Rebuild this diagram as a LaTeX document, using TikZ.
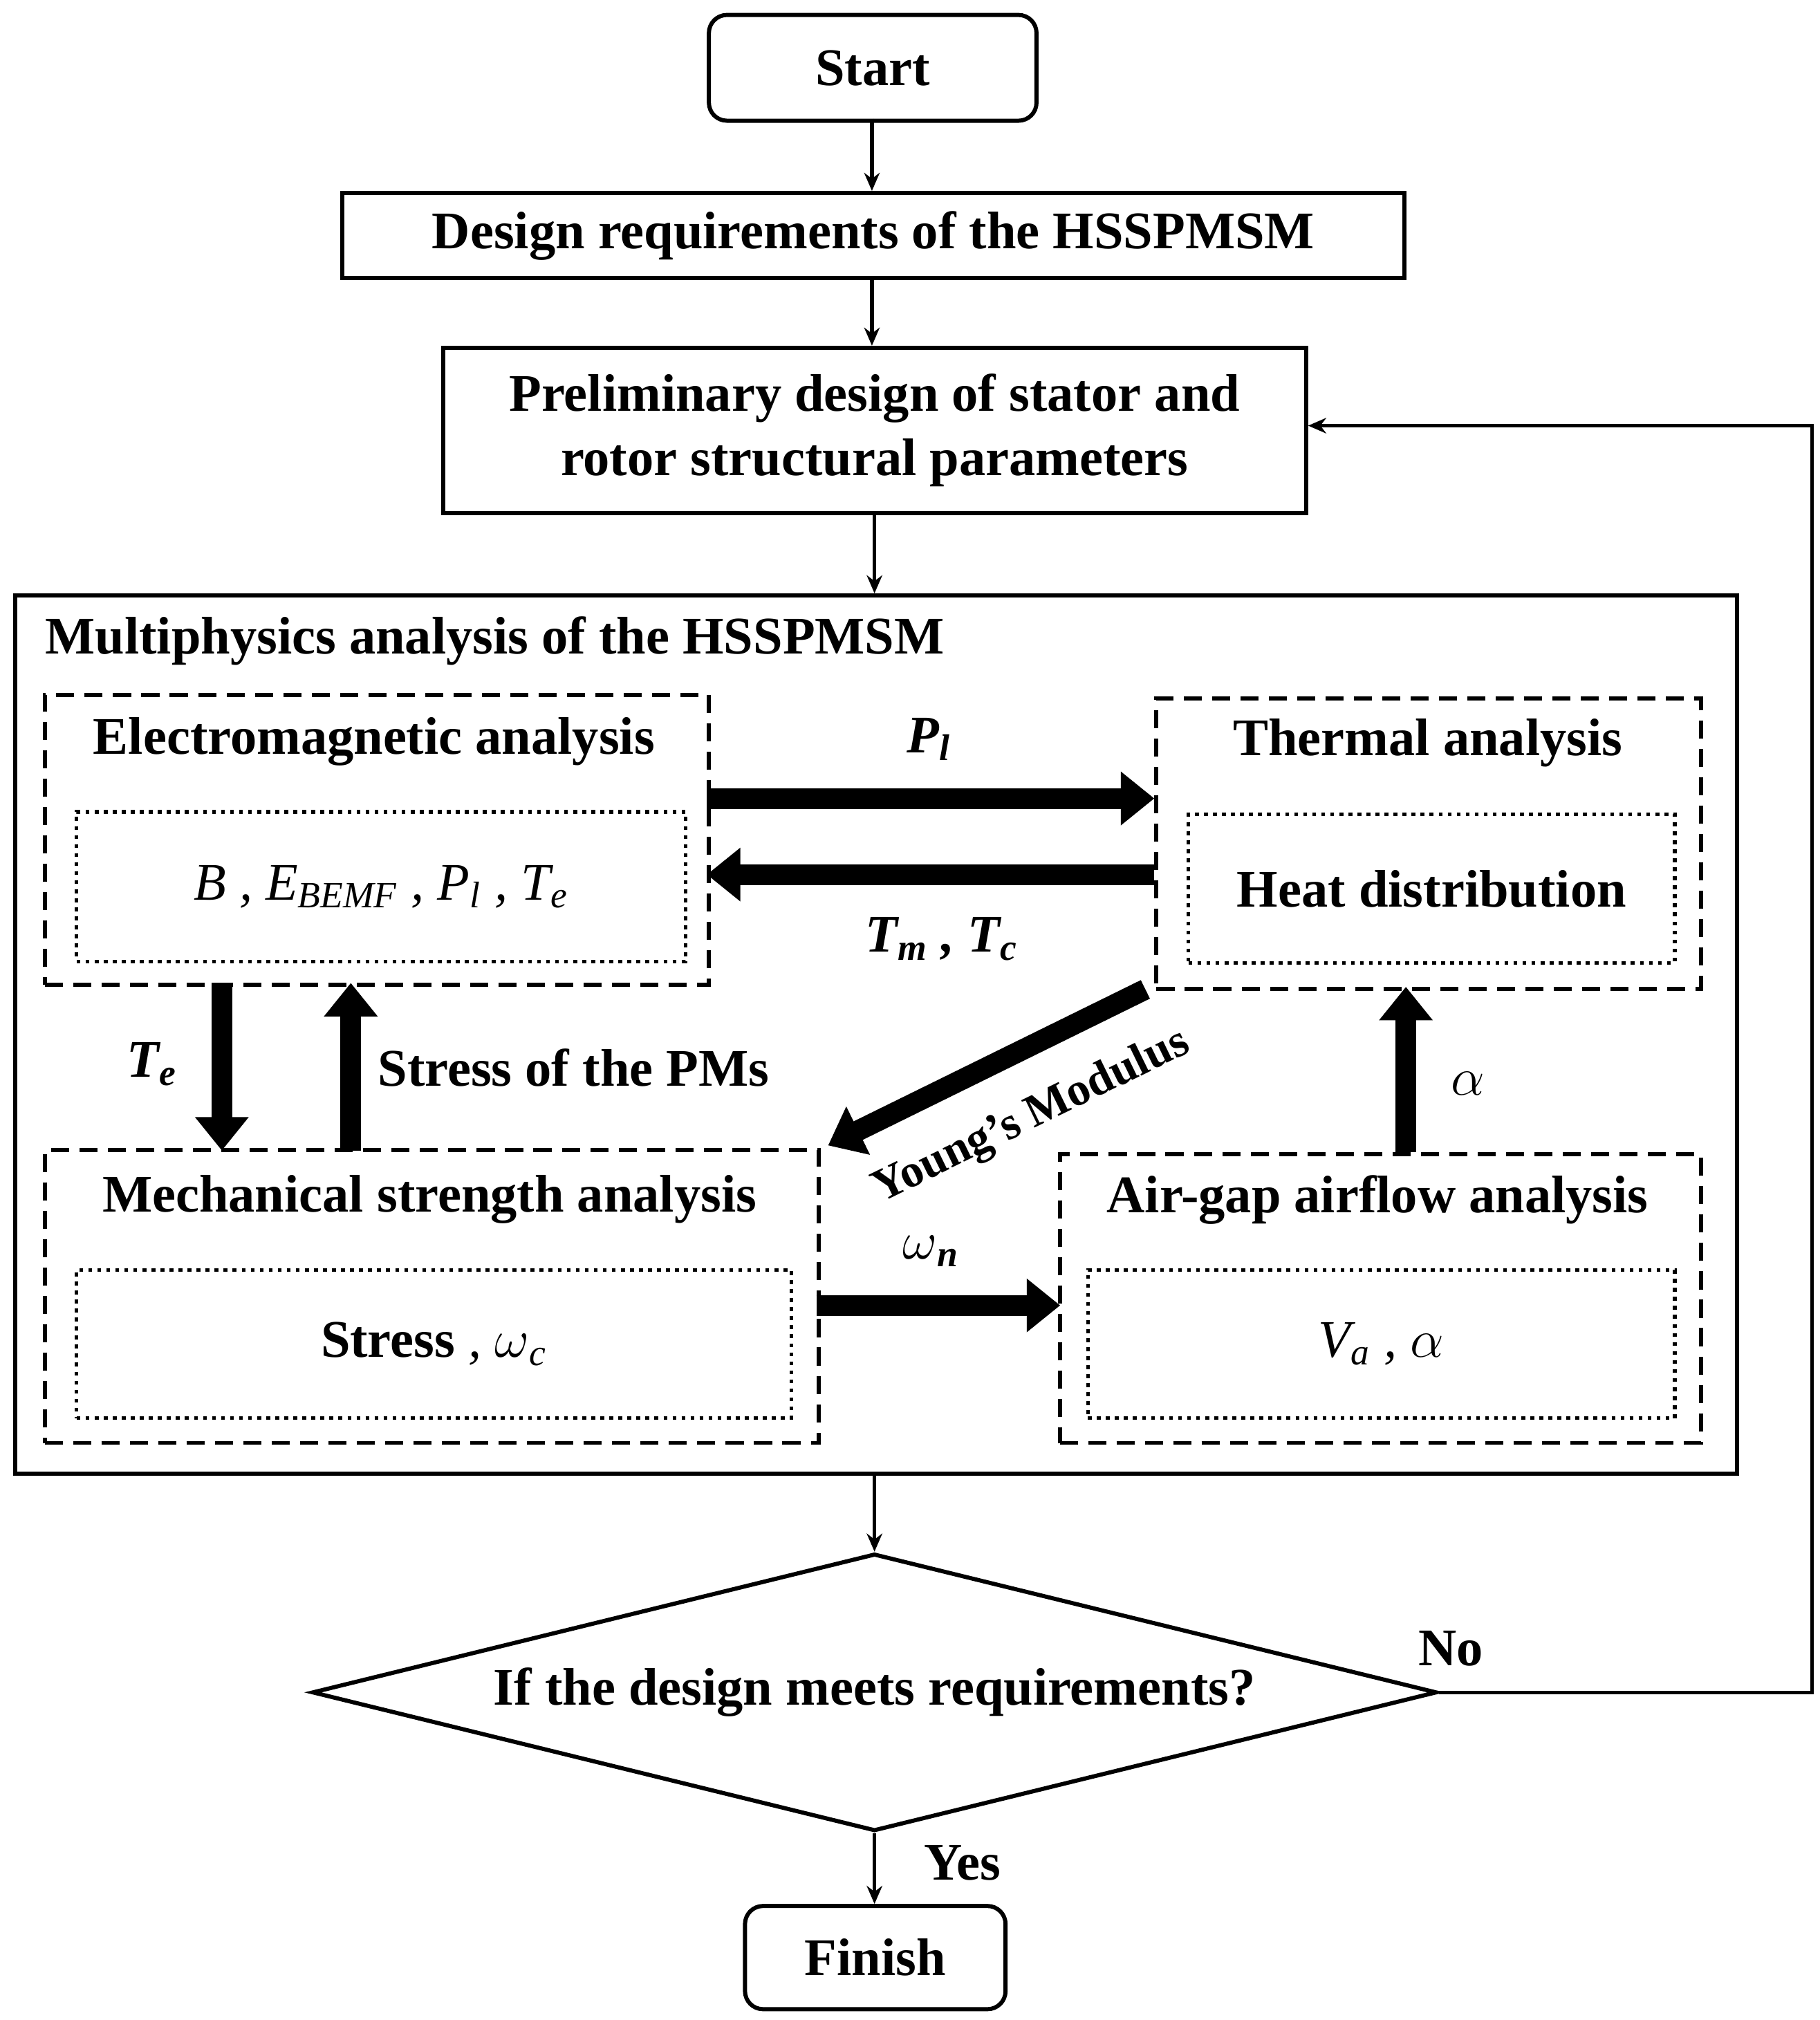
\documentclass[tikz,border=0pt]{standalone}
\usepackage{fontspec}
\setmainfont{Liberation Serif}
\usetikzlibrary{arrows.meta,shapes.geometric,calc}
\newcommand{\sbs}[1]{\textsubscript{#1}}
\begin{document}
\begin{tikzpicture}[x=0.5pt,y=-0.5pt,
  font=\fontsize{20.5}{25}\selectfont\bfseries,
  box/.style={draw,line width=1.6pt,inner sep=0pt,anchor=north west},
  dbox/.style={draw,line width=1.6pt,dash pattern=on 7pt off 4pt,inner sep=0pt,anchor=north west},
  obox/.style={draw,line width=1.4pt,dash pattern=on 1.5pt off 2pt,inner sep=0pt,anchor=north west},
  thin/.style={line width=1.4pt,-{Stealth[length=7pt,width=6pt]}},
  big/.style={line width=8pt,-{Triangle[length=13pt,width=20pt]}},
  lbl/.style={font=\fontsize{20.5}{25}\selectfont\bfseries\itshape}]
\useasboundingbox (0,0) rectangle (1411,1566);
\node[box,rounded corners=7pt,minimum width=127pt,minimum height=41pt] (start) at (548,10) {};
\node at (start.center) {Start};
\node[box,minimum width=411.5pt,minimum height=33pt] (req) at (264,148) {};
\node at (req.center) {Design requirements of the HSSPMSM};
\node[box,minimum width=334.5pt,minimum height=64pt] (pre) at (342,268) {};
\node[align=center] at (pre.center) {Preliminary design of stator and\\rotor structural parameters};
\node[box,minimum width=667.5pt,minimum height=340.5pt] (multi) at (10,460) {};
\node[anchor=west] at (28,497) {Multiphysics analysis of the HSSPMSM};
% EM
\node[dbox,minimum width=257.5pt,minimum height=112.5pt] (em) at (33,537) {};
\node at (290,575) {Electromagnetic analysis};
\node[obox,minimum width=236pt,minimum height=58pt] (emi) at (58,628) {};
\node[lbl] at (emi.center) {\mdseries B , E\sbs{BEMF} , P\sbs{l} , T\sbs{e}};
% Thermal
\node[dbox,minimum width=211pt,minimum height=112.5pt] (th) at (895,540) {};
\node at (1107,576) {Thermal analysis};
\node[obox,minimum width=188.5pt,minimum height=57.5pt] (thi) at (920,630) {};
\node at (thi.center) {Heat distribution};
% Mech
\node[dbox,minimum width=300pt,minimum height=113.5pt] (me) at (33,890) {};
\node at (333,930) {Mechanical strength analysis};
\node[obox,minimum width=277pt,minimum height=57.5pt] (mei) at (58,983) {};
\node at (mei.center) {Stress\mdseries\itshape\ , $\omega$\sbs{c}};
% Air
\node[dbox,minimum width=248.5pt,minimum height=112pt] (air) at (820,893) {};
\node at (1068,930) {Air-gap airflow analysis};
\node[obox,minimum width=227.5pt,minimum height=57.5pt] (airi) at (842,983) {};
\node[lbl] at (airi.center) {\mdseries V\sbs{a} , $\alpha$};
% Diamond
\node[diamond,draw,line width=1.6pt,minimum width=436pt,minimum height=107.5pt,inner sep=0pt,aspect=4] (dec) at (678,1312) {};
\node at (dec.center) {If the design meets requirements?};
\node[box,rounded corners=7pt,minimum width=101pt,minimum height=40pt] (fin) at (576,1476) {};
\node at (fin.center) {Finish};
% thin arrows
\draw[thin] (676,92) -- (676,148);
\draw[thin] (676,214) -- (676,268);
\draw[thin] (678,396) -- (678,460);
\draw[thin] (678,1141) -- (dec.north);
\draw[thin] (dec.south) -- (678,1476);
\node at (746,1444) {Yes};
\node at (1125,1278) {No};
\coordinate (c1) at (1405,1312);
\coordinate (c2) at (1405,330);
\draw[thin] (dec.east) -- (c1) -- (c2) -- (c2 -| pre.east);
% big arrows
\draw[big] (548,619) -- (895,619);
\node[lbl] at (720,573) {P\sbs{l}};
\draw[big] (895,678) -- (548,678);
\node[lbl] at (730,728) {T\sbs{m} , T\sbs{c}};
\draw[big] (172,762) -- (172,892);
\node[lbl] at (118,825) {T\sbs{e}};
\draw[big] (272,892) -- (272,762);
\node[anchor=west] at (286,828) {Stress of the PMs};
\draw[big] (888,767) -- (642,888);
\node[rotate=26,font=\fontsize{18}{22}\selectfont\bfseries] at (800,866) {Young's Modulus};
\draw[big] (1090,893) -- (1090,765);
\node[lbl] at (1138,840) {$\alpha$};
\draw[big] (633,1012) -- (822,1012);
\node[lbl] at (722,970) {$\omega$\sbs{n}};
\end{tikzpicture}
\end{document}
